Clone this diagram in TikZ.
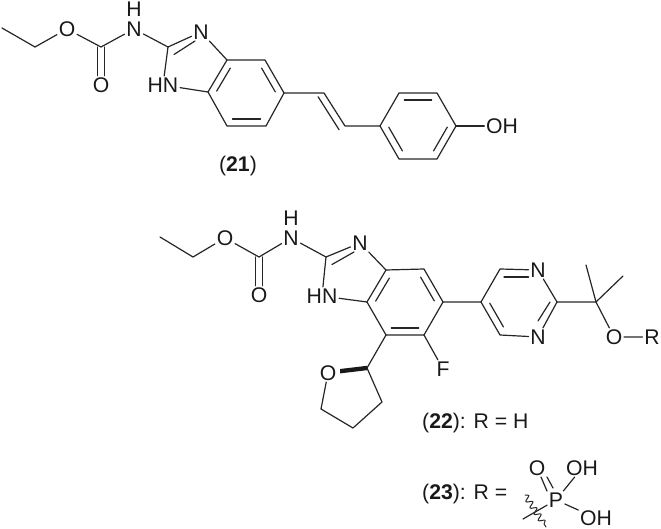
\documentclass[tikz,border=0pt]{standalone}
\usepackage{fontspec}
\setmainfont{Liberation Sans}
\usetikzlibrary{calc,decorations.pathmorphing}
\newcommand{\dbl}[4][0.14]{\draw[bond] ($(#2)!#1!(#3)!#4pt!90:(#3)$) -- ($(#3)!#1!(#2)!-#4pt!90:(#2)$);}
\tikzset{
  bond/.style={line width=1.2pt,draw=black!85,line cap=round,line join=round},
  atom/.style={inner sep=1.6pt,text height=14.6pt,text depth=0pt,font=\fontsize{21.2}{24}\selectfont,text=black!90},
  lab/.style={inner sep=0pt,anchor=base west,font=\fontsize{21.2}{24}\selectfont,text=black!90},
}
\begin{document}
\begin{tikzpicture}[x=1pt,y=-1pt]
\useasboundingbox (0,0) rectangle (661,529);
% ---- compound 21
\coordinate (a1) at (2,28);
\coordinate (a2) at (35,47);
\node[atom] (aO1) at (67,29) {O};
\coordinate (aC) at (101,47);
\node[atom] (aO2) at (101,85) {O};
\node[atom] (aN) at (134,29) {N};
\node[atom] (aH) at (134,9) {H};
\coordinate (a3) at (168,47);
\node[atom] (aN3) at (201,32) {N};
\node[atom] (aHN) at (163,85) {HN};
\coordinate (a3a) at (227,60);
\coordinate (a4) at (265,60);
\coordinate (a5) at (284,93);
\coordinate (a6) at (266,126);
\coordinate (a7) at (227,126);
\coordinate (a7a) at (208,92);
\coordinate (v1) at (324,93);
\coordinate (v2) at (345,126);
\coordinate (p1) at (380,126);
\coordinate (p2) at (399,93);
\coordinate (p3) at (437,93);
\coordinate (p4) at (456,126);
\coordinate (p5) at (437,159);
\coordinate (p6) at (399,159);
\node[atom] (aOH) at (502,126) {OH};
\draw[bond] (a1) -- (a2) -- (aO1) -- (aC) -- (aN) -- (a3) -- (aN3) -- (a3a) -- (a4) -- (a5) -- (a6) -- (a7) -- (a7a) -- (a3a);
\draw[bond] (a3) -- (aHN) -- (a7a);
\draw[bond] ($(aC)+(-3.6,0)$) -- ($(aO2.north)+(-3.6,0)$);
\draw[bond] ($(aC)+(3.6,0)$) -- ($(aO2.north)+(3.6,0)$);
\draw[bond] ($(a3)+(6,7.5)$) -- ($(aN3)+(-6,9)$);
\dbl{a3a}{a7a}{7}
\dbl{a4}{a5}{-7}
\dbl{a6}{a7}{-7}
\draw[bond] (a5) -- (v1) -- (v2) -- (p1) -- (p2) -- (p3) -- (p4) -- (p5) -- (p6) -- (p1);
\dbl[0.0]{v1}{v2}{-7}
\dbl{p2}{p3}{-7}
\dbl{p4}{p5}{-7}
\dbl{p6}{p1}{-7}
\draw[bond] (p4) -- (aOH);
\node[lab,anchor=base] (l21) at (238,172) {(\textbf{21})};
% ---- compound 22
\coordinate (b1) at (160,237);
\coordinate (b2) at (193,257);
\node[atom] (bO1) at (225,238) {O};
\coordinate (bC) at (259,257);
\node[atom] (bO2) at (259,295) {O};
\node[atom] (bN) at (291,238) {N};
\node[atom] (bH) at (291,218) {H};
\coordinate (b3) at (326,257);
\node[atom] (bN3) at (360,243) {N};
\node[atom] (bHN) at (322,296) {HN};
\coordinate (b3a) at (386,270);
\coordinate (b4) at (424,269);
\coordinate (b5) at (443,302);
\coordinate (b6) at (424,335);
\coordinate (b7) at (386,335);
\coordinate (b7a) at (367,302);
\node[atom] (bF) at (443,369) {F};
\coordinate (q1) at (481,302);
\coordinate (q2) at (500,269);
\node[atom] (qN1) at (538,270) {N};
\coordinate (q3) at (557,302);
\node[atom] (qN3) at (538,337) {N};
\coordinate (q4) at (500,335);
\coordinate (c0) at (596,302);
\coordinate (m1) at (586,265);
\coordinate (m2) at (623,276);
\node[atom] (bO3) at (614,337) {O};
\node[atom] (bR) at (652,337) {R};
\coordinate (t1) at (367,368);
\node[atom] (tO) at (328,373) {O};
\coordinate (t2) at (321,409);
\coordinate (t3) at (353,428);
\coordinate (t4) at (382,402);
\draw[bond] (b1) -- (b2) -- (bO1) -- (bC) -- (bN) -- (b3) -- (bN3) -- (b3a) -- (b4) -- (b5) -- (b6) -- (b7) -- (b7a) -- (b3a);
\draw[bond] (b3) -- (bHN) -- (b7a);
\draw[bond] ($(bC)+(-3.6,0)$) -- ($(bO2.north)+(-3.6,0)$);
\draw[bond] ($(bC)+(3.6,0)$) -- ($(bO2.north)+(3.6,0)$);
\draw[bond] ($(b3)+(6,7.5)$) -- ($(bN3)+(-6,9)$);
\dbl{b3a}{b7a}{7}
\dbl{b4}{b5}{-7}
\dbl{b6}{b7}{-7}
\draw[bond] (b6) -- (bF);
\draw[bond] (b5) -- (q1) -- (q2) -- (qN1) -- (q3) -- (qN3) -- (q4) -- (q1);
\draw[bond] ($(q2)+(4,8)$) -- ($(qN1.west)+(0,7)$);
\draw[bond] ($(q3)+(-7,0)$) -- ($(qN3)+(0,-16)$);
\dbl{q1}{q4}{7}
\draw[bond] (q3) -- (c0) -- (m1);
\draw[bond] (c0) -- (m2);
\draw[bond] (c0) -- (bO3) -- (bR);
\draw[bond] (b7) -- (t1) -- (t4) -- (t3) -- (t2) -- (tO);
\fill[black!90] ($(t1)+(0,-2.2)$) -- ($(tO)+(12,-4)$) -- ($(tO)+(12,0.4)$) -- ($(t1)+(0,2.2)$) -- cycle;
\node[lab] (l22) at (422,428) {(\textbf{22}): R = H};
% ---- compound 23
\node[lab] (l23) at (422,499) {(\textbf{23}): R =};
\coordinate (pw1) at (525,495);
\coordinate (pw2) at (546,527);
\coordinate (ps) at (523,519);
\node[atom] (P) at (556,500) {P};
\node[atom] (pO) at (537,468) {O};
\node[atom] (pOH1) at (582,468) {OH};
\node[atom] (pOH2) at (596,518) {OH};
\draw[bond] (ps) -- (P) -- (pOH1);
\draw[bond] (P) -- (pOH2);
\draw[bond] (541,477) -- (547,491);
\draw[bond] (547,477) -- (553,488);
\draw[bond,line width=1pt,decorate,decoration={snake,amplitude=3pt,segment length=7.5pt}] (pw1) -- (pw2);
\end{tikzpicture}
\end{document}
